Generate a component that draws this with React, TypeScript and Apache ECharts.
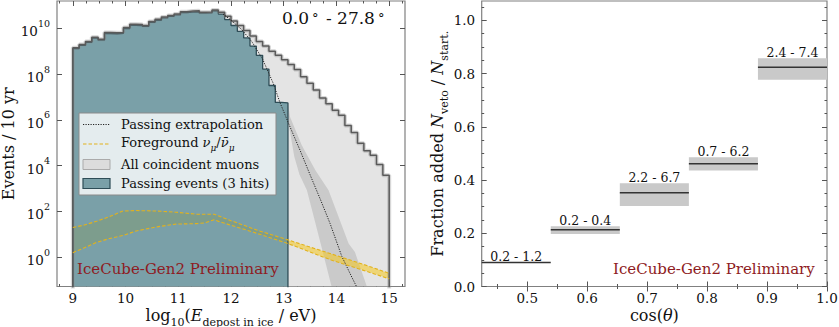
import React, { useEffect, useRef } from "react";
import * as echarts from "echarts";

const FONT = "'DejaVu Serif', 'Liberation Serif', serif";

// ---------- Left panel: events / 10 yr (stored as log10 of the value) ----------
const binStart = 9.0;
const binWidth = 0.12;
const passingLog10 = [
  9.11, 9.25, 9.38, 9.57, 9.48, 9.77, 9.76, 9.78, 9.99, 10.13,
  10.12, 10.08, 10.26, 10.35, 10.45, 10.52, 10.58, 10.68, 10.71, 10.72,
  10.66, 10.67, 10.76, 10.62, 10.38, 10.12, 9.86, 9.58, 9.22, 8.82,
  8.22, 7.5, 6.76, 6.74,
];
const coincidentLog10 = [
  9.15, 9.29, 9.42, 9.61, 9.52, 9.81, 9.8, 9.82, 10.03, 10.17,
  10.16, 10.12, 10.3, 10.39, 10.49, 10.56, 10.62, 10.72, 10.75, 10.76,
  10.7, 10.71, 10.8, 10.7, 10.52, 10.32, 10.12, 9.9, 9.66, 9.42,
  9.22, 9.0, 8.82, 8.62, 8.42, 8.2, 7.88, 7.6, 7.3, 6.95,
  6.7, 6.42, 6.2, 5.75, 5.45, 4.98, 4.65, 4.45, 4.05, 3.58,
];
const extrapEnergy = [11.85, 12.0, 12.2, 12.4, 12.6, 12.8, 12.93, 13.1, 13.31, 13.5, 13.7, 13.88, 14.1, 14.29, 14.45];
const extrapLog10 = [10.62, 10.35, 9.95, 9.4, 8.65, 7.6, 6.75, 5.8, 4.67, 3.6, 2.5, 1.47, 0.05, -0.86, -1.6];
const extrapBandLowEnergy = [13.08, 13.2, 13.3, 13.44, 13.6, 13.75, 13.91, 14.0];
const extrapBandLowLog10 = [6.0, 4.4, 3.6, 2.93, 1.5, 0.15, -1.3, -2.0];
const extrapBandHighEnergy = [13.08, 13.12, 13.34, 13.6, 13.85, 14.05, 14.23, 14.35, 14.58, 14.65];
const extrapBandHighLog10 = [6.74, 6.13, 4.9, 3.8, 2.93, 1.7, 0.6, 0.23, -1.3, -1.8];
const fgEnergy = [9.0, 9.2, 9.45, 9.7, 9.95, 10.2, 10.6, 10.95, 11.35, 11.5, 11.68, 11.75, 12.0, 12.5, 13.08, 13.9, 14.5, 15.0];
const fgUpperLog10 = [1.3, 1.4, 1.57, 1.78, 2.02, 2.04, 2.02, 1.97, 1.88, 1.88, 1.88, 1.82, 1.6, 1.18, 0.76, 0.15, -0.3, -0.7];
const fgLowerLog10 = [0.2, 0.4, 0.65, 0.82, 0.95, 1.15, 1.33, 1.45, 1.47, 1.5, 1.64, 1.58, 1.4, 1.04, 0.6, -0.12, -0.56, -0.94];
const energyTicks = [9, 10, 11, 12, 13, 14, 15];
const eventTickExponents = [0, 2, 4, 6, 8, 10];

// ---------- Right panel: fraction added ----------
const cosBinLow = [0.424, 0.5392, 0.6544, 0.7696, 0.8848];
const cosBinHigh = [0.5392, 0.6544, 0.7696, 0.8848, 1.0];
const fractionCentral = [0.09, 0.213, 0.352, 0.461, 0.824];
const fractionLow = [0.09, 0.197, 0.303, 0.436, 0.777];
const fractionHigh = [0.09, 0.226, 0.388, 0.486, 0.858];
const rangeLabels = ["0.2 - 1.2", "0.2 - 0.4", "2.2 - 6.7", "0.7 - 6.2", "2.4 - 7.4"];
const cosTicks = [0.5, 0.6, 0.7, 0.8, 0.9, 1.0];
const fracTicks = [0, 0.2, 0.4, 0.6, 0.8, 1.0];

const LOG_MIN = Math.pow(10, -1.275);
const LOG_MAX = Math.pow(10, 11.19);
const FLOOR = 1e-4;

const pow10 = (v: number) => Math.pow(10, v);

function histPoints(logs: number[]) {
  const pts: number[][] = [[binStart, FLOOR]];
  logs.forEach((l, k) => pts.push([binStart + k * binWidth, pow10(l)]));
  const end = binStart + logs.length * binWidth;
  pts.push([end, pow10(logs[logs.length - 1])]);
  pts.push([end, FLOOR]);
  return pts;
}

function minorBetween(majors: number[], step: number, lo: number, hi: number) {
  const out: number[] = [];
  const first = majors[0] - step * Math.floor((majors[0] - lo) / step + 1e-9);
  for (let v = first; v <= hi + 1e-9; v += step) {
    const r = Math.round(v * 1000) / 1000;
    if (!majors.some((m) => Math.abs(m - r) < 1e-6)) out.push(r);
  }
  return out;
}

function clipPolygon(points: number[][], r: { x: number; y: number; width: number; height: number }) {
  const planes = [
    [1, 0, -r.x],
    [-1, 0, r.x + r.width],
    [0, 1, -r.y],
    [0, -1, r.y + r.height],
  ];
  let out = points;
  for (const [a, b, c] of planes) {
    const inp = out;
    out = [];
    for (let i = 0; i < inp.length; i++) {
      const P = inp[i];
      const Q = inp[(i + 1) % inp.length];
      const fp = a * P[0] + b * P[1] + c;
      const fq = a * Q[0] + b * Q[1] + c;
      if (fp >= 0) out.push(P);
      if (fp >= 0 !== fq >= 0) {
        const t = fp / (fp - fq);
        out.push([P[0] + t * (Q[0] - P[0]), P[1] + t * (Q[1] - P[1])]);
      }
    }
    if (!out.length) break;
  }
  return out;
}

const tickStyle = { color: "#555", width: 1 };

function mkAxis(o: any) {
  const ax: any = {
    type: o.type,
    gridIndex: o.grid,
    position: o.position,
    min: o.min,
    max: o.max,
    axisLine: { show: false },
    splitLine: { show: false },
    minorTick: { show: false },
    axisTick: { show: true, inside: true, length: o.length, customValues: o.ticks, lineStyle: tickStyle },
    axisLabel: o.label ? o.label : { show: false },
  };
  if (o.type === "log") ax.logBase = 10;
  if (o.name) Object.assign(ax, o.name);
  return ax;
}

const nameRich = {
  r: { fontFamily: FONT, fontSize: 16, lineHeight: 20, verticalAlign: "top", color: "#111" },
  i: { fontFamily: FONT, fontSize: 16, fontStyle: "italic", lineHeight: 20, verticalAlign: "top", color: "#111" },
  s: { fontFamily: FONT, fontSize: 11, verticalAlign: "bottom", color: "#111" },
};

function bandSeries(loE: number[], loL: number[], hiE: number[], hiL: number[], fill: string) {
  return {
    type: "custom",
    xAxisIndex: 0,
    yAxisIndex: 0,
    clip: false,
    silent: true,
    z: 2,
    data: loE.map((e, i) => [e, pow10(loL[i])]),
    renderItem: (params: any, api: any) => {
      if (params.dataIndex !== 0) return null;
      const pts: number[][] = [];
      loE.forEach((e, i) => pts.push(api.coord([e, pow10(loL[i])])));
      for (let i = hiE.length - 1; i >= 0; i--) pts.push(api.coord([hiE[i], pow10(hiL[i])]));
      const cs = params.coordSys;
      const clipped = clipPolygon(pts, { x: cs.x, y: cs.y, width: cs.width, height: cs.height });
      return { type: "polygon", shape: { points: clipped }, style: { fill }, z2: 1 };
    },
  };
}

export default function App() {
  const ref = useRef<HTMLDivElement>(null);
  useEffect(() => {
    if (!ref.current) return;
    const chart = echarts.init(ref.current, undefined, { renderer: "svg" });
    const eMinor = minorBetween(energyTicks, 0.25, 8.7, 15.3);
    const cMinor = minorBetween(cosTicks, 0.05, 0.424, 1.0);
    const fMinor = minorBetween(fracTicks, 0.05, 0, 1.07);
    const eventTicks = eventTickExponents.map(pow10);

    const LG = { left: 57, top: 1, width: 348, height: 285.5 };
    const RG = { left: 481.7, top: 1, width: 345.3, height: 285.5 };

    const xLabel = { show: true, margin: 4, fontFamily: FONT, fontSize: 13.5, color: "#111" };
    const legendText = { fontFamily: FONT, fontSize: 13, fill: "#111", verticalAlign: "middle", textVerticalAlign: "middle" };

    const option: any = {
      animation: false,
      backgroundColor: "#fff",
      grid: [
        { ...LG, show: true, borderColor: "#808080", borderWidth: 1.2, backgroundColor: "transparent", containLabel: false, outerBoundsMode: "none" },
        { ...RG, show: true, borderColor: "#808080", borderWidth: 1.2, backgroundColor: "transparent", containLabel: false, outerBoundsMode: "none" },
      ],
      xAxis: [
        mkAxis({
          type: "value", grid: 0, position: "bottom", min: 8.7, max: 15.3, ticks: energyTicks, length: 5,
          label: { ...xLabel, customValues: energyTicks, formatter: (v: number) => String(Math.round(v)) },
          name: {
            name: "{r|log}{s|10}{r|(}{i|E}{s|depost in ice}{r| / eV)}",
            nameLocation: "middle", nameGap: 21, nameMoveOverlap: false,
            nameTextStyle: { rich: nameRich },
          },
        }),
        mkAxis({ type: "value", grid: 0, position: "bottom", min: 8.7, max: 15.3, ticks: eMinor, length: 2.5 }),
        mkAxis({ type: "value", grid: 0, position: "top", min: 8.7, max: 15.3, ticks: energyTicks, length: 5 }),
        mkAxis({ type: "value", grid: 0, position: "top", min: 8.7, max: 15.3, ticks: eMinor, length: 2.5 }),
        mkAxis({
          type: "value", grid: 1, position: "bottom", min: 0.424, max: 1.0, ticks: cosTicks, length: 5,
          label: { ...xLabel, customValues: cosTicks, formatter: (v: number) => v.toFixed(1) },
          name: { name: "{r|cos(}{i|θ}{r|)}", nameLocation: "middle", nameGap: 21, nameMoveOverlap: false, nameTextStyle: { rich: nameRich } },
        }),
        mkAxis({ type: "value", grid: 1, position: "bottom", min: 0.424, max: 1.0, ticks: cMinor, length: 2.5 }),
        mkAxis({ type: "value", grid: 1, position: "top", min: 0.424, max: 1.0, ticks: cosTicks, length: 5 }),
        mkAxis({ type: "value", grid: 1, position: "top", min: 0.424, max: 1.0, ticks: cMinor, length: 2.5 }),
      ],
      yAxis: [
        mkAxis({
          type: "log", grid: 0, position: "left", min: LOG_MIN, max: LOG_MAX, ticks: eventTicks, length: 5,
          label: {
            show: true, margin: 7, customValues: eventTicks,
            formatter: (v: number) => `{b|10}{p|${Math.round(Math.log10(v))}}`,
            rich: {
              b: { fontFamily: FONT, fontSize: 13.5, lineHeight: 20, verticalAlign: "bottom", color: "#111" },
              p: { fontFamily: FONT, fontSize: 9.5, verticalAlign: "top", color: "#111" },
            },
          },
          name: {
            name: "{r|Events / 10 yr}", nameLocation: "middle", nameRotate: 90, nameGap: 34,
            nameTextStyle: { rich: nameRich },
          },
        }),
        mkAxis({ type: "log", grid: 0, position: "right", min: LOG_MIN, max: LOG_MAX, ticks: eventTicks, length: 5 }),
        mkAxis({
          type: "value", grid: 1, position: "left", min: 0, max: 1.073, ticks: fracTicks, length: 5,
          label: { show: true, margin: 6.5, fontFamily: FONT, fontSize: 13.5, color: "#111", customValues: fracTicks, formatter: (v: number) => v.toFixed(1) },
          name: {
            name: "{r|Fraction added }{i|N}{s|veto}{r| / }{i|N}{s|start.}",
            nameLocation: "middle", nameRotate: 90, nameGap: 30,
            nameTextStyle: { rich: nameRich },
          },
        }),
        mkAxis({ type: "value", grid: 1, position: "left", min: 0, max: 1.073, ticks: fMinor, length: 2.5 }),
        mkAxis({ type: "value", grid: 1, position: "right", min: 0, max: 1.073, ticks: fracTicks, length: 5 }),
        mkAxis({ type: "value", grid: 1, position: "right", min: 0, max: 1.073, ticks: fMinor, length: 2.5 }),
      ],
      series: [
        {
          name: "All coincident muons", type: "line", xAxisIndex: 0, yAxisIndex: 0, step: "end", symbol: "none", z: 1,
          data: histPoints(coincidentLog10), lineStyle: { width: 0, opacity: 0 }, areaStyle: { color: "#e4e4e4", opacity: 1 }, silent: true,
        },
        bandSeries(extrapBandLowEnergy, extrapBandLowLog10, extrapBandHighEnergy, extrapBandHighLog10, "rgba(150,150,150,0.33)"),
        bandSeries(fgEnergy, fgLowerLog10, fgEnergy, fgUpperLog10, "rgba(245,200,30,0.55)"),
        {
          name: "Passing events (3 hits)", type: "line", xAxisIndex: 0, yAxisIndex: 0, step: "end", symbol: "none", z: 3,
          data: histPoints(passingLog10), lineStyle: { color: "#2e4d57", width: 1.3 }, areaStyle: { color: "#578a94", opacity: 0.75 }, silent: true,
        },
        {
          type: "line", xAxisIndex: 0, yAxisIndex: 0, step: "end", symbol: "none", silent: true, z: 4,
          data: histPoints(coincidentLog10), lineStyle: { color: "rgba(140,140,140,0.35)", width: 4 },
        },
        {
          type: "line", xAxisIndex: 0, yAxisIndex: 0, step: "end", symbol: "none", silent: true, z: 4,
          data: histPoints(coincidentLog10), lineStyle: { color: "#5a5a5a", width: 1.5 },
        },
        {
          name: "Passing extrapolation", type: "line", xAxisIndex: 0, yAxisIndex: 0, symbol: "none", silent: true, z: 5,
          data: extrapEnergy.map((e, i) => [e, pow10(extrapLog10[i])]), lineStyle: { color: "#222", width: 1, type: [1.2, 1.3] },
        },
        {
          name: "Foreground upper", type: "line", xAxisIndex: 0, yAxisIndex: 0, symbol: "none", silent: true, z: 5,
          data: fgEnergy.map((e, i) => [e, pow10(fgUpperLog10[i])]), lineStyle: { color: "#e2b21c", width: 1.1, type: [3.5, 2] },
        },
        {
          name: "Foreground lower", type: "line", xAxisIndex: 0, yAxisIndex: 0, symbol: "none", silent: true, z: 5,
          data: fgEnergy.map((e, i) => [e, pow10(fgLowerLog10[i])]), lineStyle: { color: "#e2b21c", width: 1.1, type: [3.5, 2] },
        },
        {
          type: "custom", xAxisIndex: 4, yAxisIndex: 2, silent: true, z: 2,
          data: fractionCentral.map((v, i) => [cosBinLow[i], cosBinHigh[i], v, fractionLow[i], fractionHigh[i]]),
          encode: { x: [0, 1], y: [2, 3, 4] },
          renderItem: (params: any, api: any) => {
            const x0 = api.value(0), x1 = api.value(1), v = api.value(2), lo = api.value(3), hi = api.value(4);
            const tl = api.coord([x0, hi]);
            const br = api.coord([x1, lo]);
            const pl = api.coord([x0, v]);
            const pr = api.coord([x1, v]);
            return {
              type: "group",
              children: [
                { type: "rect", shape: { x: tl[0], y: tl[1], width: br[0] - tl[0], height: br[1] - tl[1] }, style: { fill: "#c9c9c9" } },
                { type: "line", shape: { x1: pl[0], y1: pl[1], x2: pr[0], y2: pr[1] }, style: { stroke: "#333", lineWidth: 1.5 } },
                {
                  type: "text", x: (pl[0] + pr[0]) / 2, y: tl[1] - 6,
                  style: {
                    text: rangeLabels[params.dataIndex], fontFamily: FONT, fontSize: 12.5, fill: "#111",
                    align: "center", verticalAlign: "middle", textAlign: "center", textVerticalAlign: "middle",
                  },
                },
              ],
            };
          },
        },
      ],
      graphic: [
        { type: "rect", shape: { x: 79, y: 113, width: 197, height: 82 }, style: { fill: "rgba(255,255,255,0.8)", stroke: "#8a8a8a", lineWidth: 1 }, z: 100 },
        { type: "line", shape: { x1: 83, y1: 124.5, x2: 110, y2: 124.5 }, style: { stroke: "#222", lineWidth: 1, lineDash: [1.2, 1.3] }, z: 101 },
        { type: "line", shape: { x1: 83, y1: 144, x2: 110, y2: 144 }, style: { stroke: "#e2b21c", lineWidth: 1.1, lineDash: [3.5, 2] }, z: 101 },
        { type: "rect", shape: { x: 83, y: 159.5, width: 27, height: 10 }, style: { fill: "#dcdcdc", stroke: "#aaa", lineWidth: 1 }, z: 101 },
        { type: "rect", shape: { x: 83, y: 178.5, width: 27, height: 10 }, style: { fill: "#7aa0a8", stroke: "#2e4d57", lineWidth: 1.2 }, z: 101 },
        { type: "text", x: 121, y: 124.5, z: 101, style: { text: "Passing extrapolation", ...legendText } },
        {
          type: "text", x: 121, y: 144, z: 101,
          style: {
            text: "{r|Foreground }{i|ν}{s|μ}{r|/}{i|ν\u0304}{s|μ}", verticalAlign: "middle", textVerticalAlign: "middle",
            rich: {
              r: { fontFamily: FONT, fontSize: 13, lineHeight: 17, verticalAlign: "top", fill: "#111" },
              i: { fontFamily: FONT, fontSize: 13, fontStyle: "italic", lineHeight: 17, verticalAlign: "top", fill: "#111" },
              s: { fontFamily: FONT, fontSize: 9, fontStyle: "italic", verticalAlign: "bottom", fill: "#111" },
            },
          },
        },
        { type: "text", x: 121, y: 164.5, z: 101, style: { text: "All coincident muons", ...legendText } },
        { type: "text", x: 121, y: 183.5, z: 101, style: { text: "Passing events (3 hits)", ...legendText } },
        {
          type: "text", x: 282, y: 18, z: 101,
          style: {
            text: "{r|0.0}{d|°}{r| - 27.8}{d|°}", verticalAlign: "middle", textVerticalAlign: "middle",
            rich: {
              r: { fontFamily: FONT, fontSize: 17, lineHeight: 22, verticalAlign: "middle", fill: "#111" },
              d: { fontFamily: FONT, fontSize: 13, verticalAlign: "middle", fill: "#111", padding: [0, 2, 0, 3] },
            },
          },
        },
        { type: "text", x: 77, y: 268.5, z: 101, style: { text: "IceCube-Gen2 Preliminary", fontFamily: FONT, fontSize: 15, fill: "#8e1b22", verticalAlign: "middle", textVerticalAlign: "middle" } },
        { type: "text", x: 613, y: 268.5, z: 101, style: { text: "IceCube-Gen2 Preliminary", fontFamily: FONT, fontSize: 15, fill: "#8e1b22", verticalAlign: "middle", textVerticalAlign: "middle" } },
      ],
    };
    chart.setOption(option);
    return () => chart.dispose();
  }, []);
  return <div ref={ref} style={{ position: "fixed", left: 0, top: 0, width: 839, height: 327 }} />;
}
